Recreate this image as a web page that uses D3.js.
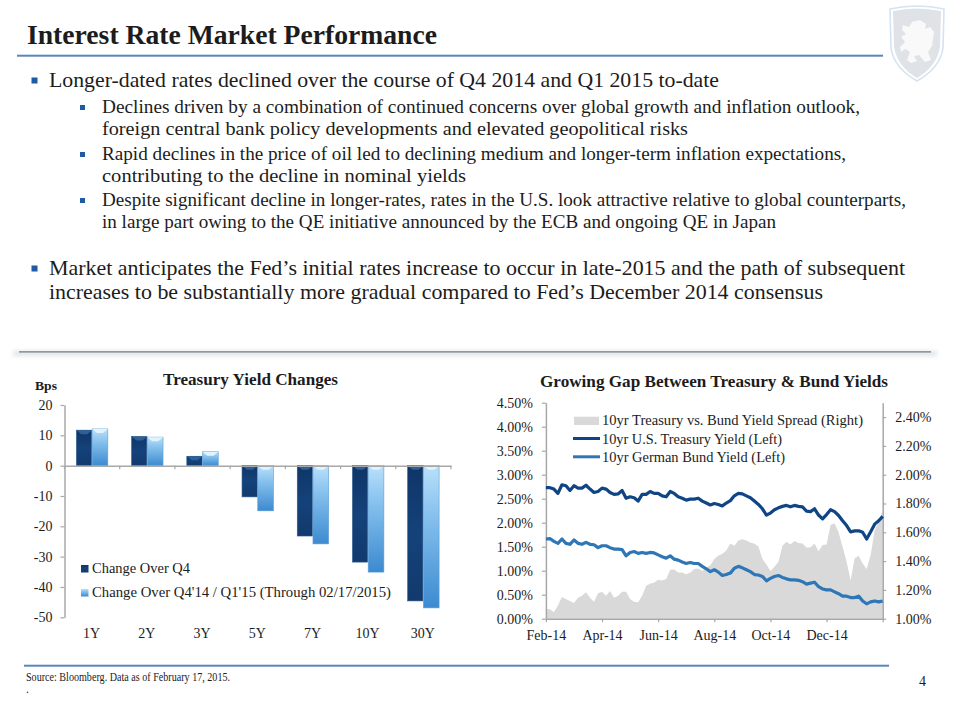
<!DOCTYPE html>
<html><head><meta charset="utf-8">
<script src="https://cdn.jsdelivr.net/npm/d3@7/dist/d3.min.js"></script>
<style>html,body{margin:0;padding:0;background:#fff}svg{display:block}text{font-family:"Liberation Serif",serif;fill:#1c1c1c}</style>
</head><body><svg id="c" width="960" height="720"></svg>
<script>
// ---------- data ----------
const maturities = ["1Y","2Y","3Y","5Y","7Y","10Y","30Y"];
const changeQ4 = [11.7,9.6,3.1,-10.3,-23.2,-31.8,-44.6];
const changeToDate = [12.1,9.4,4.6,-14.9,-25.8,-35.1,-46.9];
const barSeriesNames = ["Change Over Q4","Change Over Q4'14 / Q1'15 (Through 02/17/2015)"];
const barTicks = [20,10,0,-10,-20,-30,-40,-50];

const monthLabels = ["Feb-14","Apr-14","Jun-14","Aug-14","Oct-14","Dec-14"];
const leftTicks = [0,0.5,1,1.5,2,2.5,3,3.5,4,4.5];
const rightTicks = [1,1.2,1.4,1.6,1.8,2,2.2,2.4];
const lineSeriesNames = ["10yr Treasury vs. Bund Yield Spread (Right)","10yr U.S. Treasury Yield (Left)","10yr German Bund Yield (Left)"];
const treasuryYield = [2.73,2.73,2.70,2.61,2.79,2.77,2.67,2.77,2.72,2.72,2.78,2.70,2.63,2.65,2.72,2.70,2.63,2.59,2.60,2.67,2.51,2.54,2.52,2.45,2.59,2.59,2.65,2.61,2.61,
 2.56,2.54,2.65,2.61,2.54,2.51,2.47,2.49,2.49,2.51,2.45,2.41,2.37,2.40,2.38,2.35,2.41,2.46,2.56,2.61,2.60,2.56,2.52,2.45,2.38,2.29,2.16,
 2.20,2.27,2.31,2.34,2.36,2.33,2.36,2.34,2.33,2.24,2.23,2.29,2.16,2.08,2.17,2.27,2.23,2.15,2.04,1.94,1.81,1.83,1.83,1.80,1.66,1.81,1.97,2.04,2.13];
const bundYield = [1.66,1.67,1.61,1.57,1.66,1.57,1.55,1.64,1.57,1.55,1.59,1.55,1.54,1.48,1.52,1.52,1.48,1.45,1.45,1.44,1.31,1.38,1.40,1.36,1.38,1.36,1.38,1.37,1.33,
 1.29,1.26,1.31,1.24,1.22,1.18,1.15,1.17,1.15,1.15,1.09,1.04,0.98,1.02,0.97,0.90,0.92,0.95,1.05,1.09,1.06,1.02,0.98,0.92,0.91,0.88,0.79,
 0.84,0.88,0.90,0.86,0.83,0.81,0.81,0.80,0.77,0.72,0.74,0.76,0.67,0.62,0.60,0.60,0.56,0.52,0.47,0.47,0.44,0.44,0.47,0.37,0.31,0.35,0.37,0.35,0.37];
const yieldSpread = [1.067,1.065,1.044,1.091,1.151,1.137,1.123,1.109,1.146,1.160,1.183,1.146,1.118,1.176,1.188,1.160,1.192,1.146,1.160,1.188,1.188,1.137,1.118,1.114,1.160,1.229,1.243,1.252,1.271,
 1.266,1.275,1.340,1.342,1.321,1.321,1.308,1.321,1.345,1.349,1.331,1.354,1.372,1.414,1.437,1.451,1.474,1.522,1.506,1.543,1.552,1.543,1.529,1.520,1.502,1.414,1.377,
 1.331,1.361,1.395,1.506,1.534,1.515,1.539,1.525,1.522,1.492,1.497,1.522,1.469,1.511,1.515,1.650,1.663,1.599,1.499,1.395,1.266,1.418,1.437,1.384,1.345,1.442,1.615,1.673,1.753];

const pageTitle = "Interest Rate Market Performance";
const bodyLines = [
 "Longer-dated rates declined over the course of Q4 2014 and Q1 2015 to-date",
 "Declines driven by a combination of continued concerns over global growth and inflation outlook,",
 "foreign central bank policy developments and elevated geopolitical risks",
 "Rapid declines in the price of oil led to declining medium and longer-term inflation expectations,",
 "contributing to the decline in nominal yields",
 "Despite significant decline in longer-rates, rates in the U.S. look attractive relative to global counterparts,",
 "in large part owing to the QE initiative announced by the ECB and ongoing QE in Japan",
 "Market anticipates the Fed\u2019s initial rates increase to occur in late-2015 and the path of subsequent",
 "increases to be substantially more gradual compared to Fed\u2019s December 2014 consensus"
];
const sourceNote = "Source: Bloomberg.  Data as of February 17, 2015.";

// ---------- page furniture ----------
const svg = d3.select("#c");
const defs = svg.append("defs");
const blur = defs.append("filter").attr("id","soft").attr("x","-5%").attr("y","-300%").attr("width","110%").attr("height","700%");
blur.append("feGaussianBlur").attr("stdDeviation",2.2);
function grad(id,stops,horizontal){
  const g=defs.append("linearGradient").attr("id",id).attr("x1",0).attr("y1",0).attr("x2",horizontal?1:0).attr("y2",horizontal?0:1);
  stops.forEach(s=>g.append("stop").attr("offset",s[0]).attr("stop-color",s[1]));
}
grad("darkBar",[[0,"#0f3567"],[0.5,"#14427a"],[1,"#123a6e"]]);
grad("lightBar",[[0,"#b9e0fb"],[0.35,"#86c1ee"],[1,"#3c8ad0"]]);

function fitText(sel,str,x,end,base,size,weight){
  const t=sel.append("text").attr("x",x).attr("y",base).attr("font-size",size).attr("font-weight",weight||"normal").text(str);
  t.attr("textLength",end-x).attr("lengthAdjust","spacingAndGlyphs");
  return t;
}
const page = svg.append("g");
fitText(page,pageTitle,27,437,44,27.5,"bold");
page.append("rect").attr("x",17).attr("y",54.7).attr("width",866).attr("height",2).attr("fill","#5a86b9");

const lineStart=[49,102,102,102,102,102,102,49,49];
const lineEnd=[719,860,688,846,466,906,776,905,823];
const lineBase=[87,113,135,160,182,206,228,275,299];
const lineSize=[21.5,19,19,19,19,19,19,21.5,21.5];
bodyLines.forEach((s,i)=>fitText(page,s,lineStart[i],lineEnd[i],lineBase[i],lineSize[i]));
[[31.5,77.5,6],[31.5,265.5,6],[80,105,5],[80,152,5],[80,198,5]].forEach(b=>
  page.append("rect").attr("x",b[0]).attr("y",b[1]).attr("width",b[2]).attr("height",b[2]).attr("fill","#1f5ba3"));

page.append("rect").attr("x",13).attr("y",351).attr("width",924).attr("height",5).attr("fill","#e0e3e6").attr("filter","url(#soft)");
page.append("rect").attr("x",19).attr("y",351).attr("width",912).attr("height",1.7).attr("fill","#8b9ba6");

page.append("rect").attr("x",24).attr("y",664.7).attr("width",865).attr("height",2).attr("fill","#5a86b9");
fitText(page,sourceNote,26,230,681,11.5);
page.append("text").attr("x",919).attr("y",686).attr("font-size",14).text("4");
page.append("text").attr("x",26).attr("y",693).attr("font-size",11.5).text(".");

// shield crest
const crest=svg.append("g");
crest.append("path").attr("d","M890,9 Q917,3 944,9 L943,48 Q940,68 917,81 Q894,68 891,48 Z").attr("fill","#ffffff").attr("stroke","#d3e3f1").attr("stroke-width",1.6);
crest.append("path").attr("d","M893,11 Q917,6 941,11 L940,47 Q937,66 917,78 Q897,66 894,47 Z").attr("fill","#dfe3e7");
crest.append("path").attr("d","M903,25 L909,27 L912,22 L920,20 L926,24 L925,29 L930,27 L934,32 L932,46 L928,52 L931,60 L925,62 L919,55 L914,56 L917,61 L911,63 L907,60 L910,52 L905,49 L901,52 L900,47 L905,42 L901,37 L906,34 L902,30 Z").attr("fill","#f9f9f9");

// ---------- bar chart ----------
const barG=svg.append("g");
const bx0=64.5,bx1=451,by0=405,by1=617.3;
const xBand=d3.scaleBand().domain(maturities).range([bx0,bx1]).paddingInner(0.431).paddingOuter(0.2155);
const xInner=d3.scaleBand().domain([0,1]).range([0,xBand.bandwidth()]);
const yBar=d3.scaleLinear().domain([-50,20]).range([by1,by0]);
const axisCol="#a8a8a8";
function styleAxis(g,size){
  g.selectAll(".domain").attr("stroke",axisCol).attr("stroke-width",1.5);
  g.selectAll(".tick line").attr("stroke",axisCol).attr("stroke-width",1.2);
  g.selectAll("text").attr("font-size",size).attr("fill","#1c1c1c").style("font-family",'"Liberation Serif",serif');
}
fitText(barG,"Treasury Yield Changes",163,338,385,16.5,"bold");
fitText(barG,"Bps",35,57,390,13,"bold");
const yAxisBar=barG.append("g").attr("transform",`translate(${bx0},0)`).call(d3.axisLeft(yBar).tickValues(barTicks).tickSize(4).tickSizeOuter(0).tickPadding(8).tickFormat(d=>String(d)));
styleAxis(yAxisBar,14);
const barSeries=[changeQ4,changeToDate];
barSeries.forEach((vals,s)=>{
  const gg=barG.append("g");
  gg.selectAll("rect.bar").data(vals).join("rect").attr("class","bar")
    .attr("x",(d,i)=>xBand(maturities[i])+xInner(s))
    .attr("y",d=>yBar(Math.max(0,d)))
    .attr("width",xInner.bandwidth()-(s===0?0.5:0))
    .attr("height",d=>Math.abs(yBar(d)-yBar(0)))
    .attr("fill",s===0?"url(#darkBar)":"url(#lightBar)")
    .attr("stroke",s===0?"#2a5a8c":"#5d9fd6").attr("stroke-width",0.6);
  gg.selectAll("path.cap").data(vals).join("path").attr("class","cap")
    .attr("d",(d,i)=>{
      const l=xBand(maturities[i])+xInner(s),w=xInner.bandwidth(),t=yBar(Math.max(0,d));
      return `M${l},${t}H${l+w}L${l+w/2+3},${t+4}H${l+w/2-3}Z`;})
    .attr("fill",s===0?"#2f6199":"#e2f3fe");
});
const zero=yBar(0);
const xAxisLabels=barG.append("g").attr("transform",`translate(0,${zero})`).call(d3.axisBottom(xBand).tickSize(0).tickPadding(0));
xAxisLabels.selectAll("text").attr("dy",0).attr("y",638-zero).attr("font-size",14).attr("dx",-0.5).style("font-family",'"Liberation Serif",serif').attr("fill","#1c1c1c");
xAxisLabels.select(".domain").attr("stroke",axisCol).attr("stroke-width",1.5);
barG.selectAll("line.bt").data(d3.range(maturities.length+1)).join("line").attr("class","bt")
  .attr("x1",i=>bx0+i*xBand.step()).attr("x2",i=>bx0+i*xBand.step()).attr("y1",zero).attr("y2",zero+3.5)
  .attr("stroke",axisCol).attr("stroke-width",1.2);
// bar legend
barSeriesNames.forEach((n,i)=>{
  const y=[565,589][i];
  barG.append("rect").attr("x",81).attr("y",y).attr("width",7.5).attr("height",7.5).attr("fill",i?"url(#lightBar)":"url(#darkBar)");
  fitText(barG,n,92,[190,391][i],y+7.5,14.5);
});

// ---------- line chart ----------
const lineG=svg.append("g");
const lx0=545.9,lx1=882.7,ly0=618.7,ly1=402.7;
const xIdx=d3.scaleLinear().domain([0,treasuryYield.length-1]).range([lx0,lx1]);
const yLeft=d3.scaleLinear().domain([0,4.5]).range([ly0,ly1]);
const yRight=d3.scaleLinear().domain([1,2.5]).range([ly0,ly1]);
const pct=d3.format(".2f");
fitText(lineG,"Growing Gap Between Treasury & Bund Yields",540,888,387,16.5,"bold");
lineG.append("path").datum(yieldSpread)
  .attr("d",d3.area().x((d,i)=>xIdx(i)).y0(ly0).y1(d=>yRight(d))).attr("fill","#d9d9d9");
const tickIdx=d3.range(0,treasuryYield.length,14);
const ax=lineG.append("g").attr("transform",`translate(0,${ly0})`).call(
  d3.axisBottom(xIdx).tickValues(tickIdx).tickSize(3.5).tickSizeOuter(0).tickPadding(9).tickFormat((d,i)=>monthLabels[i]||""));
styleAxis(ax,14);
ax.selectAll("text").attr("dy",0).attr("y",21.3);
const al=lineG.append("g").attr("transform",`translate(${lx0},0)`).call(
  d3.axisLeft(yLeft).tickValues(leftTicks).tickSize(4).tickSizeOuter(0).tickPadding(9).tickFormat(d=>pct(d)+"%"));
styleAxis(al,14);
const ar=lineG.append("g").attr("transform",`translate(${lx1},0)`).call(
  d3.axisRight(yRight).tickValues(rightTicks).tickSize(3.5).tickSizeOuter(0).tickPadding(9).tickFormat(d=>pct(d)+"%"));
styleAxis(ar,14);
const lineGen=d3.line().x((d,i)=>xIdx(i)).y(d=>yLeft(d));
const lineCols=["#0f4585","#2f76b6"];
[treasuryYield,bundYield].forEach((v,i)=>lineG.append("path").datum(v).attr("d",lineGen)
  .attr("fill","none").attr("stroke",lineCols[i]).attr("stroke-width",3.2).attr("stroke-linejoin","round"));
// line legend
lineG.append("rect").attr("x",574).attr("y",416.7).attr("width",25).attr("height",8.3).attr("fill","#d9d9d9");
lineCols.forEach((c,i)=>lineG.append("line").attr("x1",573).attr("x2",600).attr("y1",438.5+18.3*i).attr("y2",438.5+18.3*i).attr("stroke",c).attr("stroke-width",3));
lineSeriesNames.forEach((n,i)=>fitText(lineG,n,602,[863,782,785][i],[425,444,462][i],14.5));
</script></body></html>
